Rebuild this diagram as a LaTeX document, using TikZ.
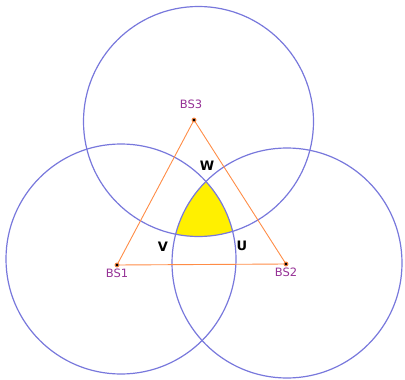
\documentclass[tikz,border=0pt]{standalone}
\usepackage{fontspec}
\setmainfont{DejaVu Sans}
\usetikzlibrary{positioning}
\definecolor{cell}{RGB}{120,120,220}
\definecolor{link}{RGB}{255,140,70}
\definecolor{station}{RGB}{150,50,150}
\definecolor{overlap}{RGB}{255,240,0}

\begin{document}
\begin{tikzpicture}[x=1pt,y=-1pt,
    cell/.style={draw=cell,line width=1.2pt},
    link/.style={draw=link,line width=0.9pt},
    stlabel/.style={text=station,font=\fontsize{11.5}{12}\selectfont,inner sep=0pt},
    ptlabel/.style={font=\bfseries\fontsize{13}{14}\selectfont,inner sep=0pt}]
  \useasboundingbox (0,0) rectangle (405,380);
  % base stations
  \coordinate (BS1) at (117,265);
  \coordinate (BS2) at (286,264);
  \coordinate (BS3) at (194,120);
  % coverage circles
  \coordinate (c1) at (121,259);
  \coordinate (c2) at (287,263);
  \coordinate (c3) at (198.5,121.5);

  % common area
  \begin{scope}
    \clip (c1) circle (115pt);
    \clip (c2) circle (115pt);
    \fill[overlap] (c3) circle (115pt);
  \end{scope}

  \draw[cell] (c1) circle (115pt);
  \draw[cell] (c2) circle (115pt);
  \draw[cell] (c3) circle (115pt);

  \draw[link] (BS1) -- (BS2) -- (BS3) -- cycle;
  \foreach \s in {BS1,BS2,BS3}
    \fill[link] (\s) circle (2pt);

  \node[stlabel,above=11pt of BS3,xshift=-3pt] (lbl3) {BS3};
  \node[stlabel,below=4pt of BS1] (lbl1) {BS1};
  \node[stlabel,below=4pt of BS2] (lbl2) {BS2};

  \node[ptlabel] (W) at (207,166) {W};
  \node[ptlabel] (V) at (163,247) {V};
  \node[ptlabel] (U) at (242,246) {U};
\end{tikzpicture}
\end{document}
